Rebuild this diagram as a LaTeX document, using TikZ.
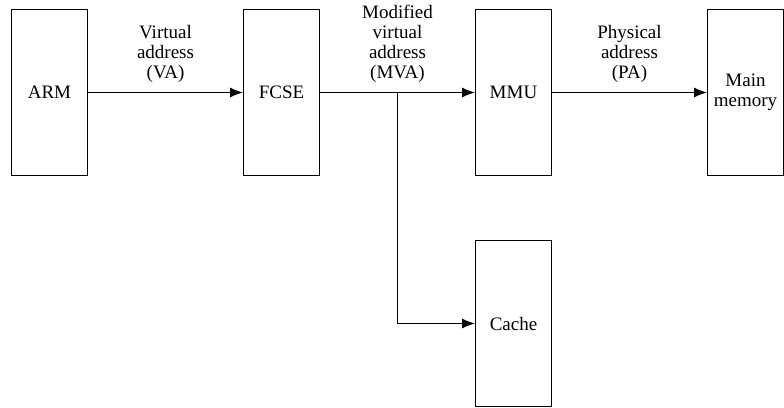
\documentclass[tikz,border=0pt]{standalone}
\usepackage{fontspec}
\setmainfont{Liberation Serif}
\usetikzlibrary{arrows.meta,positioning}

\begin{document}
\begin{tikzpicture}[
    node distance=32pt and 77.5pt,
    unit/.style={draw,line width=0.5pt,minimum width=38pt,minimum height=83pt,
                 inner sep=0pt,align=center,font=\fontsize{9.5}{10}\selectfont},
    lbl/.style={above=1.5pt,align=center,font=\fontsize{9.5}{10}\selectfont},
    link/.style={->,line width=0.5pt},
    >={Latex[length=6.5pt,width=5pt]}]
    \useasboundingbox (0,0) rectangle (392pt,-204pt);
    \node[unit,anchor=north west] (arm) at (5.5pt,-4.5pt) {ARM};
    \node[unit,right=of arm]  (fcse)  {FCSE};
    \node[unit,right=of fcse] (mmu)   {MMU};
    \node[unit,right=of mmu]  (mem)   {Main\\memory};
    \node[unit,below=of mmu]  (cache) {Cache};
    \draw[link] (arm) -- node[lbl]{Virtual\\address\\(VA)} (fcse);
    \draw[link] (fcse) -- coordinate[pos=0.5] (br)
      node[lbl]{Modified\\virtual\\address\\(MVA)} (mmu);
    \draw[link] (mmu) -- node[lbl]{Physical\\address\\(PA)} (mem);
    \draw[link] (br) |- (cache);
\end{tikzpicture}
\end{document}
